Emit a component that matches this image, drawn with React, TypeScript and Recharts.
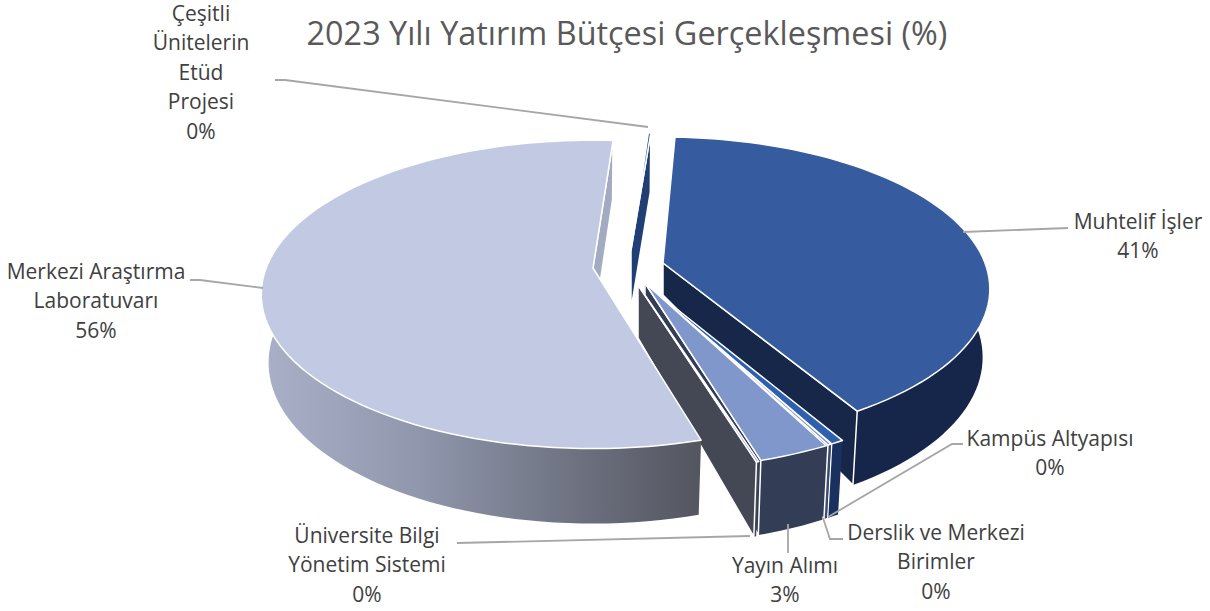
import { PieChart, Pie } from "recharts";

const categories = [
  "Muhtelif İşler",
  "Kampüs Altyapısı",
  "Derslik ve Merkezi Birimler",
  "Yayın Alımı",
  "Üniversite Bilgi Yönetim Sistemi",
  "Merkezi Araştırma Laboratuvarı",
  "Çeşitli Ünitelerin Etüd Projesi",
];
const shares = [40.7, 0.4, 0.1, 2.8, 0.1, 55.6, 0.3];

const chartData = categories.map((name, i) => ({ name, value: shares[i] }));

// how each slice sits in the 3D view: explode offset, perspective scale, angle correction
const sliceViews = [
  { dx: 0, dy: 0, scale: 1, turn: 0, sweep: 1, apexDepth: 32 },
  { dx: -19, dy: 20, scale: 1.05, turn: 1.2, sweep: 1.3, apexDepth: 32 },
  { dx: -19, dy: 20, scale: 1.05, turn: 1.6, sweep: 1.5, apexDepth: 32 },
  { dx: -18, dy: 20, scale: 1.05, turn: 2.3, sweep: 1.03, apexDepth: 40 },
  { dx: -25, dy: 22, scale: 1.05, turn: 1.7, sweep: 1, apexDepth: 53 },
  { dx: -70, dy: 5, scale: 1.015, turn: 2.7, sweep: 1, apexDepth: 62 },
  { dx: -32, dy: -13, scale: 0.93, turn: 2.2, sweep: 0.5, apexDepth: 59 },
];

const sliceColors = [
  { top: "#365C9F", side: "#16264A", wall: "#17274A" },
  { top: "#2F60B0", side: "#1A315F", wall: "#1A315F" },
  { top: "#7F96CC", side: "#3A4A70", wall: "#333D56" },
  { top: "#8097CC", side: "#333D56", wall: "#333D56" },
  { top: "#6C7FAE", side: "#444855", wall: "#444855" },
  { top: "#C1CAE2", side: "url(#merkeziSide)", wall: "#A2ABC1" },
  { top: "#203F75", side: "#203F75", wall: "#203F75" },
];

const labelLines = [
  ["Muhtelif İşler"],
  ["Kampüs Altyapısı"],
  ["Derslik ve Merkezi", "Birimler"],
  ["Yayın Alımı"],
  ["Üniversite Bilgi", "Yönetim Sistemi"],
  ["Merkezi Araştırma", "Laboratuvarı"],
  ["Çeşitli", "Ünitelerin", "Etüd", "Projesi"],
];

const labelSpots = [
  { x: 1138, y: 229 },
  { x: 1050, y: 446 },
  { x: 936, y: 540 },
  { x: 785, y: 573 },
  { x: 367, y: 543 },
  { x: 96, y: 279 },
  { x: 201, y: 21 },
];

const leaderLines = [
  "963,232 1068,228",
  "828,517 952,444 963,444",
  "823,518 830,539 843,539",
  "788,524 788,553",
  "750,536 457,543",
  "263,288 200,280 190,280",
  "648,127 285,80 275,80",
];

const TILT = 147.5 / 322;
const PERSPECTIVE = 0.171;

function projector(cx: number, cy: number, radius: number, i: number) {
  const view = sliceViews[i];
  const R = radius * view.scale;
  const ax = cx + view.dx;
  const ay = cy + view.dy;
  return (deg: number) => {
    const t = (deg * Math.PI) / 180;
    const u = Math.sin(t);
    const v = Math.cos(t);
    const w = 1 + PERSPECTIVE * v;
    const x = ax + (R * u) / w;
    const y = ay - (R * TILT * v) / w;
    const depth = 67 - 8 * v;
    return { x, y, v, bx: ax + (x - ax) * 0.978, by: y + depth };
  };
}

function SliceShape(props: any) {
  const i = categories.indexOf(props.payload.name);
  const view = sliceViews[i];
  const colors = sliceColors[i];
  const libStart = 90 - props.startAngle;
  const libEnd = 90 - props.endAngle;
  const mid = (libStart + libEnd) / 2;
  const from = mid + (libStart - mid) * view.sweep + view.turn;
  const to = mid + (libEnd - mid) * view.sweep + view.turn;
  const at = projector(props.cx, props.cy, props.outerRadius, i);
  const ax = props.cx + view.dx;
  const ay = props.cy + view.dy;

  const steps = Math.max(2, Math.ceil((to - from) / 2));
  const rim = [];
  for (let s = 0; s <= steps; s++) rim.push(at(from + ((to - from) * s) / steps));
  const last = rim[rim.length - 1];

  const face = `M${ax},${ay} ` + rim.map((p) => `L${p.x},${p.y}`).join(" ") + " Z";
  // side band as one quad per step, so the outline stays right at the left/right extremes
  const front = rim.filter((p) => p.v < 0.1);
  let side = "";
  for (let n = 0; n + 1 < front.length; n++) {
    const a = front[n];
    const b = front[n + 1];
    side += `M${a.x},${a.y} L${b.x},${b.y} L${b.bx},${b.by} L${a.bx},${a.by} Z `;
  }
  const wall = `M${ax},${ay} L${last.x},${last.y} L${last.bx},${last.by} L${ax},${ay + view.apexDepth} Z`;

  return (
    <g strokeLinejoin="round">
      {side && <path d={side} fill={colors.side} stroke="none" />}
      <path d={wall} fill={colors.wall} stroke="#fff" strokeWidth={1.5} />
      <path d={face} fill={colors.top} stroke="#fff" strokeWidth={1.5} />
    </g>
  );
}

function SliceLabel(props: any) {
  const i = categories.indexOf(props.payload.name);
  const spot = labelSpots[i];
  const lines = [...labelLines[i], `${Math.round(props.percent * 100)}%`];
  return (
    <g>
      <polyline points={leaderLines[i]} fill="none" stroke="#A6A6A6" strokeWidth={1.8} />
      <text x={spot.x} y={spot.y} textAnchor="middle" fill="#404040" fontSize={21} fontFamily="Open Sans">
        {lines.map((line, n) => (
          <tspan key={n} x={spot.x} y={spot.y + n * 29.4}>
            {line}
          </tspan>
        ))}
      </text>
    </g>
  );
}

export default function App() {
  return (
    <div style={{ position: "absolute", left: 0, top: 0, width: 1210, height: 611, background: "#fff" }}>
      <PieChart width={1210} height={611} margin={{ top: 0, right: 0, bottom: 0, left: 0 }}>
        <defs>
          <linearGradient id="merkeziSide" x1="0" y1="0" x2="1" y2="0">
            <stop offset="0%" stopColor="#A9B0C7" />
            <stop offset="35%" stopColor="#9198AE" />
            <stop offset="70%" stopColor="#6F7382" />
            <stop offset="100%" stopColor="#53565F" />
          </linearGradient>
        </defs>
        <text x={627} y={45} textAnchor="middle" fill="#595959" fontSize={32.4} fontFamily="Open Sans">
          2023 Yılı Yatırım Bütçesi Gerçekleşmesi (%)
        </text>
        <Pie
          data={chartData}
          dataKey="value"
          nameKey="name"
          cx={663}
          cy={263}
          innerRadius={0}
          outerRadius={322}
          startAngle={87.5}
          endAngle={-272.5}
          stroke="none"
          shape={SliceShape}
          label={SliceLabel}
          labelLine={false}
          rootTabIndex={-1}
          isAnimationActive={false}
        />
      </PieChart>
    </div>
  );
}
